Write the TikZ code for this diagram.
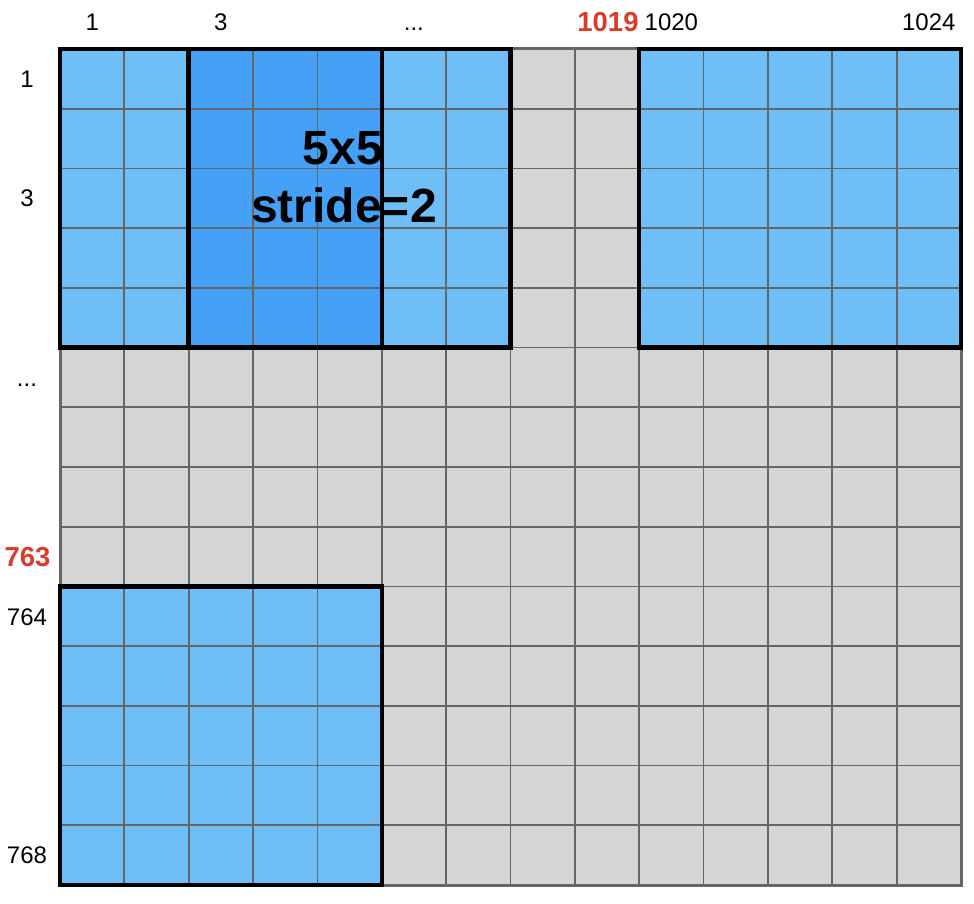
\documentclass[tikz,border=0pt]{standalone}
\usepackage{fontspec}
\setmainfont{Liberation Sans}
\definecolor{cellgray}{HTML}{D5D5D5}
\definecolor{lightblue}{HTML}{70BEF8}
\definecolor{darkblue}{HTML}{45A1F7}
\definecolor{gridgray}{HTML}{666666}
\definecolor{labelred}{HTML}{DC3B28}
\tikzset{
  gridline/.style={draw=gridgray, line width=1.8pt},
  outerline/.style={draw=gridgray, line width=3pt},
  window/.style={draw=black, line width=4.5pt, line join=miter},
  idx/.style={anchor=base, inner sep=0pt, font=\fontsize{24}{28}\selectfont},
  redidx/.style={idx, text=labelred, font=\fontsize{27.5}{32}\selectfont\bfseries},
  bigtext/.style={anchor=base, inner sep=0pt, font=\fontsize{48}{56}\selectfont\bfseries}
}
\begin{document}
\begin{tikzpicture}[x=1pt, y=-1pt]
\useasboundingbox (0,0) rectangle (974,904);
\begin{scope}[shift={(60,49)}, x=64.357pt, y=-59.714pt]
  \fill[cellgray] (0,0) rectangle (14,14);
  \fill[lightblue] (0,0) rectangle (7,5);
  \fill[darkblue] (2,0) rectangle (5,5);
  \fill[lightblue] (9,0) rectangle (14,5);
  \fill[lightblue] (0,9) rectangle (5,14);
  \foreach \i in {1,...,13} {
    \draw[gridline] (\i,0) -- (\i,14);
    \draw[gridline] (0,\i) -- (14,\i);
  }
  \draw[outerline] (0,0) rectangle (14,14);
  \draw[window] (0,0) rectangle (5,5);
  \draw[window] (2,0) rectangle (7,5);
  \draw[window] (9,0) rectangle (14,5);
  \draw[window] (0,9) rectangle (5,14);
\end{scope}
% column labels
\node[idx] (c1) at (92.2,30.5) {1};
\node[idx] (c3) at (220.9,30.5) {3};
\node[idx] (cdots) at (413.9,30.5) {...};
\node[redidx] (c1019) at (608,31.5) {1019};
\node[idx] (c1020) at (671.4,30.5) {1020};
\node[idx] (c1024) at (928.8,30.5) {1024};
% row labels
\node[idx] (r1) at (27,87.5) {1};
\node[idx] (r3) at (27,207) {3};
\node[idx] (rdots) at (27,386) {...};
\node[redidx] (r763) at (27.5,566.5) {763};
\node[idx] (r764) at (27,625) {764};
\node[idx] (r768) at (27,863.8) {768};
% window text
\node[bigtext] (t1) at (343,164.5) {5x5};
\node[bigtext] (t2) at (344,222.5) {stride=2};
\end{tikzpicture}
\end{document}
